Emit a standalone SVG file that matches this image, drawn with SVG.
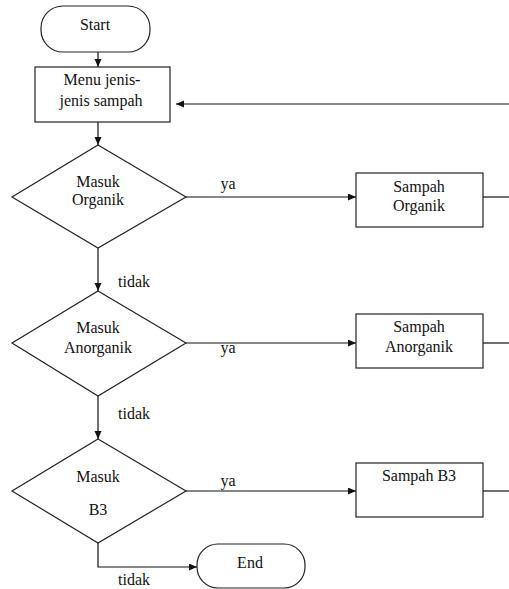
<svg xmlns="http://www.w3.org/2000/svg" width="509" height="589" viewBox="0 0 509 589">
  <defs>
    <marker id="arrow" markerWidth="9" markerHeight="8" refX="8" refY="3.5" orient="auto" markerUnits="userSpaceOnUse">
      <path d="M0,0 L8,3.5 L0,7 z" fill="#111"/>
    </marker>
    <style>
      .shape { fill: #fff; stroke: #222; stroke-width: 1.2; }
      .link { fill: none; stroke: #111; stroke-width: 1.2; }
      .arrow { marker-end: url(#arrow); }
      text { font-family: "Liberation Serif", "Times New Roman", serif; font-size: 16px; fill: #111; }
      .c { text-anchor: middle; }
    </style>
  </defs>
  <rect width="509" height="589" fill="#fff"/>

  <!-- connectors -->
  <g id="connectors">
    <line class="link arrow" x1="98" y1="52" x2="98" y2="67"/>
    <line class="link arrow" x1="509" y1="104" x2="176" y2="104"/>
    <line class="link arrow" x1="98" y1="122" x2="98" y2="145"/>
    <line class="link arrow" x1="186" y1="197" x2="356" y2="197"/>
    <line class="link" x1="483" y1="197" x2="509" y2="197"/>
    <line class="link arrow" x1="98" y1="248" x2="98" y2="291"/>
    <line class="link arrow" x1="186" y1="343" x2="356" y2="343"/>
    <line class="link" x1="483" y1="343" x2="509" y2="343"/>
    <line class="link arrow" x1="98" y1="396" x2="98" y2="439"/>
    <line class="link arrow" x1="186" y1="491" x2="356" y2="491"/>
    <line class="link" x1="483" y1="491" x2="509" y2="491"/>
    <polyline class="link arrow" points="98,543 98,567 197,567"/>
    <text x="228" y="189" class="c">ya</text>
    <text x="118" y="287">tidak</text>
    <text x="228" y="353" class="c">ya</text>
    <text x="118" y="419">tidak</text>
    <text x="228" y="486" class="c">ya</text>
    <text x="118" y="585">tidak</text>
  </g>

  <g id="start">
    <rect class="shape" x="41" y="6" width="109" height="46" rx="22" ry="22"/>
    <text x="95" y="30" class="c">Start</text>
  </g>

  <g id="menu">
    <rect class="shape" x="35" y="67" width="135" height="55"/>
    <text x="102" y="85" class="c">Menu jenis-</text>
    <text x="101" y="106" class="c">jenis sampah</text>
  </g>

  <g id="cek-organik">
    <polygon class="shape" points="98,145 186,197 98,248 12,197"/>
    <text x="98" y="187" class="c">Masuk</text>
    <text x="98" y="205" class="c">Organik</text>
  </g>

  <g id="sampah-organik">
    <rect class="shape" x="356" y="173" width="127" height="54"/>
    <text x="419" y="192" class="c">Sampah</text>
    <text x="419" y="211" class="c">Organik</text>
  </g>

  <g id="cek-anorganik">
    <polygon class="shape" points="98,291 186,343 98,396 12,343"/>
    <text x="98" y="333" class="c">Masuk</text>
    <text x="98" y="353" class="c">Anorganik</text>
  </g>

  <g id="sampah-anorganik">
    <rect class="shape" x="356" y="314" width="127" height="54"/>
    <text x="419" y="332" class="c">Sampah</text>
    <text x="419" y="352" class="c">Anorganik</text>
  </g>

  <g id="cek-b3">
    <polygon class="shape" points="98,439 186,491 98,543 12,491"/>
    <text x="98" y="482" class="c">Masuk</text>
    <text x="98" y="515" class="c">B3</text>
  </g>

  <g id="sampah-b3">
    <rect class="shape" x="356" y="463" width="127" height="54"/>
    <text x="419" y="481" class="c">Sampah B3</text>
  </g>

  <g id="end">
    <rect class="shape" x="197" y="544" width="108" height="44" rx="21" ry="21"/>
    <text x="250" y="568" class="c">End</text>
  </g>
</svg>
